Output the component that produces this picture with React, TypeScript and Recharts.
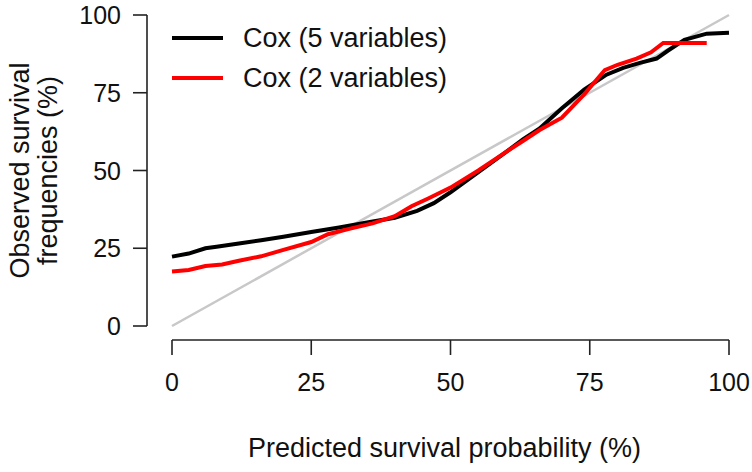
import { LineChart, Line, XAxis, YAxis, Legend } from "recharts";

// calibration curves (predicted %, observed %)
const cox5Pred = [0, 3, 6, 8, 12, 16, 20, 25, 30, 35, 40, 44, 47, 50, 55, 60, 63, 66, 70, 74, 78, 81, 84, 87, 89, 92, 96, 100];
const cox5Obs = [22.3, 23.3, 25, 25.5, 26.5, 27.6, 28.7, 30.2, 31.7, 33.3, 34.8, 37, 39.5, 43, 49.5, 56, 60, 63.5, 70, 76, 80.8, 83, 84.6, 86, 88.5, 92, 94, 94.3];

const cox2Pred = [0, 3, 6, 9, 12, 16, 20, 25, 28, 32, 36, 40, 43, 46, 50, 55, 60, 63, 66, 70, 74, 77.7, 80, 83.4, 86, 88.2, 92, 96];
const cox2Obs = [17.5, 18, 19.3, 19.8, 21, 22.4, 24.5, 27, 29.5, 31.3, 33, 35.3, 38.5, 41, 44.5, 50, 56, 59.5, 63, 67, 74.5, 82.3, 84, 86, 88, 91, 91, 91];

const diagPred = [0, 100];
const diagObs = [0, 100];

const ticks = [0, 25, 50, 75, 100];
const seriesNames = ["Cox (5 variables)", "Cox (2 variables)"];

const toRows = (xs: number[], ys: number[]) => xs.map((x, i) => ({ x, y: ys[i] }));

const FONT = "'Liberation Sans', Arial, Helvetica, sans-serif";
const W = 752;
const H = 472;
const MARGIN = { top: 15, right: 23, left: 0, bottom: 0 };
const Y_AXIS_W = 172;
const X_AXIS_H = 146;
const PLOT_W = W - MARGIN.right - Y_AXIS_W;
const PLOT_H = H - MARGIN.top - X_AXIS_H;
const AXIS_COLOR = "#222";

function XTick(props: any) {
    const { x, y, payload } = props;
    const ay = y + 14;
    return (
        <g>
            {payload.value === 0 && (
                <line x1={x} x2={x + PLOT_W} y1={ay} y2={ay} stroke={AXIS_COLOR} strokeWidth={1.6} />
            )}
            <line x1={x} x2={x} y1={ay} y2={ay + 15} stroke={AXIS_COLOR} strokeWidth={1.6} />
            <text x={x} y={y + 56} textAnchor="middle" dominantBaseline="central" fontSize={25} fontFamily={FONT} fill="#111">
                {payload.value}
            </text>
        </g>
    );
}

function YTick(props: any) {
    const { x, y, payload } = props;
    const ax = x - 25;
    return (
        <g>
            {payload.value === 0 && (
                <line x1={ax} x2={ax} y1={y} y2={y - PLOT_H} stroke={AXIS_COLOR} strokeWidth={1.6} />
            )}
            <line x1={ax - 14} x2={ax} y1={y} y2={y} stroke={AXIS_COLOR} strokeWidth={1.6} />
            <text x={x - 51} y={y} textAnchor="end" dominantBaseline="central" fontSize={25} fontFamily={FONT} fill="#111">
                {payload.value}
            </text>
        </g>
    );
}

function XLabel(props: any) {
    const { viewBox } = props;
    return (
        <text x={viewBox.x + viewBox.width / 2 - 6} y={viewBox.y + 131} textAnchor="middle" fontSize={27} fontFamily={FONT} fill="#111">
            Predicted survival probability (%)
        </text>
    );
}

function YLabel(props: any) {
    const { viewBox } = props;
    const cy = viewBox.y + viewBox.height / 2;
    return (
        <text x={29} y={cy} transform={`rotate(-90, 29, ${cy})`} textAnchor="middle" fontSize={27} fontFamily={FONT} fill="#111">
            <tspan x={29} dy={0}>Observed survival</tspan>
            <tspan x={29} dy={28}>frequencies (%)</tspan>
        </text>
    );
}

function LegendBox(props: any) {
    const entries = (props.payload || [])
        .filter((e: any) => seriesNames.includes(e.value))
        .sort((a: any, b: any) => seriesNames.indexOf(a.value) - seriesNames.indexOf(b.value));
    return (
        <div style={{ fontFamily: FONT, fontSize: 27, color: "#111" }}>
            {entries.map((entry: any) => (
                <div key={entry.value} style={{ display: "flex", alignItems: "center", height: 40 }}>
                    <div style={{ width: 51, height: 4, background: entry.color, marginRight: 20 }} />
                    <span>{entry.value}</span>
                </div>
            ))}
        </div>
    );
}

export default function App() {
    return (
        <div style={{ position: "absolute", left: 0, top: 0, background: "#fff" }}>
            <LineChart width={W} height={H} margin={MARGIN}>
                <XAxis
                    type="number"
                    dataKey="x"
                    domain={[0, 100]}
                    ticks={ticks}
                    interval={0}
                    height={X_AXIS_H}
                    axisLine={false}
                    tickLine={false}
                    tickSize={0}
                    tickMargin={0}
                    tick={<XTick />}
                    label={{ content: XLabel }}
                />
                <YAxis
                    type="number"
                    dataKey="y"
                    domain={[0, 100]}
                    ticks={ticks}
                    interval={0}
                    width={Y_AXIS_W}
                    axisLine={false}
                    tickLine={false}
                    tickSize={0}
                    tickMargin={0}
                    tick={<YTick />}
                    label={{ content: YLabel }}
                />
                <Legend
                    layout="vertical"
                    align="center"
                    verticalAlign="middle"
                    wrapperStyle={{ top: 18, left: 172, width: "auto" }}
                    content={LegendBox}
                />
                <Line
                    data={toRows(diagPred, diagObs)}
                    dataKey="y"
                    name="diagonal"
                    stroke="#c8c8c8"
                    strokeWidth={2.5}
                    dot={false}
                    legendType="none"
                    isAnimationActive={false}
                />
                <Line
                    data={toRows(cox5Pred, cox5Obs)}
                    dataKey="y"
                    name="Cox (5 variables)"
                    stroke="#000000"
                    strokeWidth={4}
                    dot={false}
                    isAnimationActive={false}
                />
                <Line
                    data={toRows(cox2Pred, cox2Obs)}
                    dataKey="y"
                    name="Cox (2 variables)"
                    stroke="#ff0000"
                    strokeWidth={4}
                    dot={false}
                    isAnimationActive={false}
                />
            </LineChart>
        </div>
    );
}
